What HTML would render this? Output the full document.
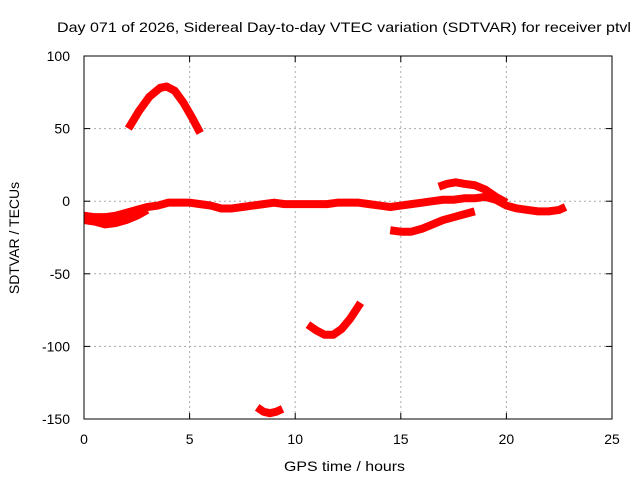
<!DOCTYPE html>
<html><head><meta charset="utf-8"><style>
body{margin:0;background:#fff;width:640px;height:480px;overflow:hidden}
svg{font-family:"Liberation Sans",sans-serif;font-size:14px}
</style></head><body>
<svg id="chart" width="640" height="480">
<text x="57" y="32" textLength="574" lengthAdjust="spacingAndGlyphs">Day 071 of 2026, Sidereal Day-to-day VTEC variation (SDTVAR) for receiver ptvl</text>
<g id="grid"></g>
<g id="series"></g>
<rect x="84" y="56" width="528" height="363" fill="none" stroke="#000"/>
<g id="ticks"></g>
<text x="284" y="471" textLength="121" lengthAdjust="spacingAndGlyphs">GPS time / hours</text>
<text transform="translate(19,238) rotate(-90)" text-anchor="middle">SDTVAR / TECUs</text>
</svg>
<script>
const xTicks=[0,5,10,15,20,25];
const yTicks=[100,50,0,-50,-100,-150];
const s1x=[0,0.5,1,1.5,2,2.5,3,3.5,4,4.5,5,5.5,6,6.5,7,7.5,8,8.5,9,9.5,10,10.5,11,11.5,12,12.5,13,13.5,14,14.5,15,15.5,16,16.5,17,17.5,18,18.5,19,19.5,20,20.5,21,21.5,22,22.5,22.8];
const s1y=[-10,-11,-11,-10,-8,-6,-4,-3,-1,-1,-1,-2,-3,-5,-5,-4,-3,-2,-1,-2,-2,-2,-2,-2,-1,-1,-1,-2,-3,-4,-3,-2,-1,0,1,1,2,2,3,1,-3,-5,-6,-7,-7,-6,-4];
const s2x=[0,0.5,1,1.5,2,2.5,3];
const s2y=[-13,-14,-16,-15,-13,-10,-6];
const s3x=[2.1,2.6,3.1,3.6,3.9,4.3,4.7,5.1,5.5];
const s3y=[50,62,72,78,79,76,68,58,47];
const s4x=[14.5,15,15.5,16,16.5,17,17.5,18,18.5];
const s4y=[-20,-21,-21,-19,-16,-13,-11,-9,-7];
const s5x=[16.8,17.2,17.6,18,18.5,19,19.5,20];
const s5y=[10,12,13,12,11,8,3,-1];
const s6x=[10.6,11,11.4,11.8,12.2,12.6,13.1];
const s6y=[-85,-89,-92,-92,-88,-81,-70];
const s7x=[8.2,8.5,8.8,9.1,9.4];
const s7y=[-142,-145,-146,-145,-143];
const X=h=>84+h*528/25, Y=v=>56+(100-v)*363/250;
const NS='http://www.w3.org/2000/svg';
const grid=document.getElementById('grid'),ticks=document.getElementById('ticks'),ser=document.getElementById('series');
function mk(tag,a,p){const e=document.createElementNS(NS,tag);for(const k in a)e.setAttribute(k,a[k]);p.appendChild(e);return e;}
xTicks.forEach(t=>{
 const g=mk('line',{x1:X(t),x2:X(t),y1:56,y2:419,stroke:'#aaa','stroke-dasharray':'2,3'},grid);
 
 
 const l=mk('text',{x:X(t),y:444,'text-anchor':'middle'},ticks);l.textContent=t;
 
 
 mk('line',{x1:X(t),x2:X(t),y1:419,y2:413,stroke:'#000'},ticks);
 mk('line',{x1:X(t),x2:X(t),y1:56,y2:62,stroke:'#000'},ticks);
});
yTicks.forEach(t=>{
 const g=mk('line',{x1:84,x2:612,y1:Y(t),y2:Y(t),stroke:'#aaa','stroke-dasharray':'2,3'},grid);
 
 
 const l=mk('text',{x:70,y:Y(t)+5,'text-anchor':'end'},ticks);l.textContent=t;
 
 
 mk('line',{x1:84,x2:90,y1:Y(t),y2:Y(t),stroke:'#000'},ticks);
 mk('line',{x1:612,x2:606,y1:Y(t),y2:Y(t),stroke:'#000'},ticks);
});
[[s1x,s1y],[s2x,s2y],[s3x,s3y],[s4x,s4y],[s5x,s5y],[s6x,s6y],[s7x,s7y]].forEach((s,i)=>{
 const pts=s[0].map((h,j)=>X(h)+','+Y(s[1][j])).join(' ');
 const p=mk('polyline',{points:pts,fill:'none',stroke:'#f00','stroke-width':8,'stroke-linejoin':'round'},ser);
 
 
});
</script>
</body></html>
